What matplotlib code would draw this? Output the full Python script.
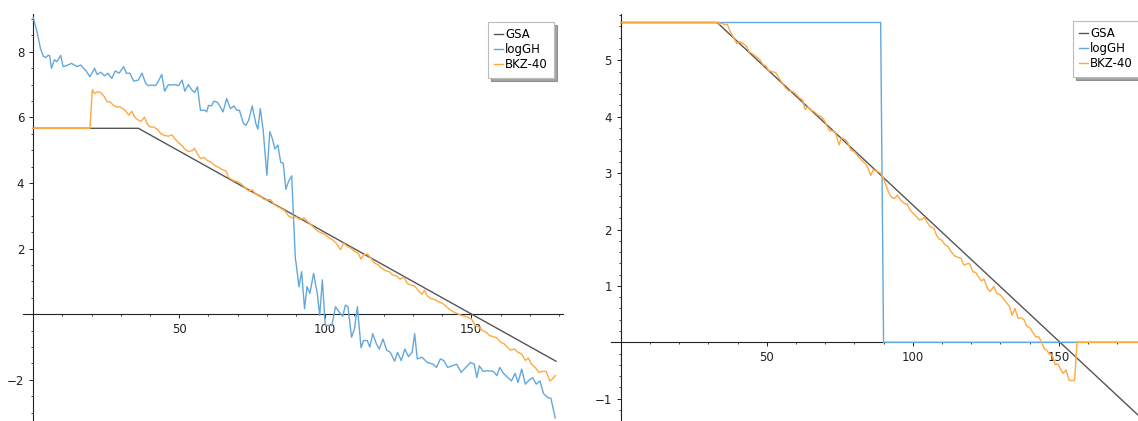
import matplotlib
matplotlib.use("Agg")
import matplotlib.pyplot as plt
import numpy as np

# ── data ──────────────────────────────────────────────────────────────────
# left panel
gsa_left_x = [0, 36, 179]
gsa_left_y = [5.67, 5.67, -1.43]

gh_left_x = [0, 1.25, 2.5, 3.5, 4.4, 5, 5.6, 6.25, 7.25, 8.1, 9.4, 10.25, 11.9, 13.1, 15, 16.25,
             18.1, 19.4, 21, 21.9, 23.1, 24.4, 25.6, 26.9, 28.1, 29.4, 31, 31.9, 33.1, 34.4, 36,
             37.25, 38.5, 39.4, 40.6, 41.9, 42.75, 44, 45, 46.25, 47.5, 48.75, 49.75, 51, 51.9,
             53.1, 54.4, 55.25, 56.25, 57.25, 58.75, 59.4, 60, 61, 61.9, 63.1, 63.75, 65, 66.25,
             67.5, 68.75, 69.75, 70.6, 71.9, 72.75, 73.75, 75, 76.25, 76.9, 77.75, 78.75, 80, 81,
             81.9, 82.75, 83.75, 84.75, 85.6, 86.5, 87.5, 88.5, 89.75, 90, 91, 91.9, 92.9, 93.75,
             94.75, 96, 97.25, 98.1, 99, 100, 101, 102.25, 103.5, 104.75, 106, 106.9, 107.75, 109,
             110, 111, 112.25, 113.1, 114.4, 115.25, 116.25, 117.5, 118.5, 119.75, 121, 122.25,
             123.75, 124.75, 126, 127.25, 128.5, 129.75, 130.6, 131.5, 133.1, 135, 136.9, 138.1,
             139.4, 140.6, 141.9, 143.5, 145, 146.5, 148.1, 149.75, 151, 151.9, 152.75, 154,
             155.6, 157.5, 158.75, 159.75, 161, 162.5, 163.75, 165, 166, 167.25, 168.5, 169.75,
             171, 172.25, 173.5, 174.75, 176.25, 177.25, 178.75]
gh_left_y = [9.05, 8.63, 8.1, 7.86, 7.83, 7.89, 7.89, 7.5, 7.76, 7.7, 7.89, 7.55, 7.6, 7.65, 7.55, 7.6,
             7.42, 7.24, 7.5, 7.31, 7.38, 7.27, 7.35, 7.19, 7.42, 7.35, 7.55, 7.35, 7.35, 7.11, 7.14,
             7.35, 7.04, 6.97, 6.99, 6.97, 7.09, 7.31, 6.8, 7.0, 6.99, 7.0, 6.97, 7.14, 6.8,
             7.0, 6.83, 6.76, 6.94, 6.22, 6.22, 6.17, 6.37, 6.35, 6.5, 6.46, 6.37, 6.17, 6.58,
             6.27, 6.35, 6.22, 6.22, 5.84, 5.76, 5.91, 6.35, 5.81, 5.64, 6.27, 5.6, 4.24, 5.57,
             5.35, 5.04, 5.16, 4.63, 4.61, 3.81, 4.07, 4.22, 1.7, 1.56, 0.84, 1.3, 0.17, 0.84,
             0.64, 1.25, 0.64, -0.03, 1.05, -0.34, -0.34, -0.34, 0.23, 0.07, -0.06, 0.28, 0.23, -0.7,
             -0.44, 0.23, -1.02, -0.8, -0.8, -1.0, -0.59, -0.9, -1.06, -0.75, -1.09, -1.16,
             -1.43, -1.16, -1.41, -1.06, -1.29, -1.16, -0.59, -1.36, -1.31, -1.47, -1.52, -1.62,
             -1.36, -1.41, -1.62, -1.57, -1.52, -1.77, -1.62, -1.47, -1.52, -1.93, -1.57, -1.74,
             -1.72, -1.74, -1.87, -1.62, -1.8, -1.93, -2.03, -1.8, -2.08, -1.67, -2.13, -2.01,
             -1.93, -2.13, -2.03, -2.42, -2.54, -2.56, -3.16]

bkz_left_x = [0, 19.4, 20.25, 21, 21.9, 23.1, 24.4, 25.25, 26.25, 27.5, 28.5, 29.75, 31, 31.9, 32.75,
              33.75, 34.75, 35.6, 36.9, 38.1, 39, 40, 41.25, 42.5, 43.75, 45, 46.25, 47.5, 48.5,
              49.75, 51, 51.9, 53.1, 54.4, 55.25, 56.25, 57.25, 58.5, 59.75, 61, 62.25, 63.5, 64.75,
              66, 66.9, 67.75, 68.75, 70, 71.25, 72.5, 73.75, 75, 76.25, 77.5, 78.75, 80, 81.25,
              82.5, 83.75, 85, 86.25, 87.5, 88.75, 90, 91.25, 92.75, 93.75, 95, 96.25, 97.5, 98.75,
              100, 101.25, 102.5, 103.75, 105.25, 106.25, 107.5, 108.75, 110, 111.25, 112.25, 113.1,
              114.4, 115.6, 116.9, 118.1, 119.4, 120.6, 121.9, 123.1, 124.4, 125.6, 126.9, 128.1,
              129.4, 130.6, 131.9, 133.1, 134, 135, 136.25, 137.5, 138.75, 140.25, 141.5, 142.75,
              144, 145.25, 146.5, 147.75, 149, 150.25, 151.25, 152.75, 153.75, 155, 156.25, 157.5,
              158.75, 160, 161.25, 162.5, 163.5, 164.75, 166, 167.25, 168.5, 169.5, 170.6, 171.9,
              173.1, 174.4, 175.6, 176.9, 177.75, 178.75]
bkz_left_y = [5.67, 5.67, 6.85, 6.73, 6.78, 6.76, 6.63, 6.48, 6.48, 6.37, 6.32, 6.32, 6.25, 6.17, 6.07,
              6.19, 6.01, 5.94, 5.88, 6.01, 5.81, 5.71, 5.71, 5.64, 5.5, 5.45, 5.43, 5.47, 5.35,
              5.23, 5.14, 5.04, 4.96, 4.99, 5.06, 4.89, 4.75, 4.78, 4.68, 4.63, 4.53, 4.48, 4.41,
              4.37, 4.17, 4.12, 4.07, 4.04, 3.97, 3.86, 3.76, 3.79, 3.66, 3.63, 3.52, 3.48, 3.5,
              3.35, 3.28, 3.22, 3.15, 2.99, 2.94, 2.97, 2.89, 2.94, 2.84, 2.74, 2.63, 2.53, 2.48,
              2.43, 2.33, 2.27, 2.17, 1.97, 2.17, 2.07, 2.02, 1.92, 1.86, 1.68, 1.81,
              1.84, 1.71, 1.56, 1.51, 1.4, 1.33, 1.3, 1.2, 1.17, 1.07, 1.13, 0.94,
              0.89, 0.86, 0.72, 0.61, 0.74, 0.55, 0.48, 0.45, 0.38, 0.33, 0.23, 0.14,
              0.07, 0.02, -0.03, -0.06, -0.1, -0.16, -0.34, -0.39, -0.49, -0.54, -0.65, -0.68,
              -0.72, -0.85, -0.9, -1.02, -1.09, -1.06, -1.16, -1.21, -1.41, -1.33, -1.52, -1.62,
              -1.77, -1.74, -1.74, -2.03, -1.98, -1.87]

# right panel
gsa_right_x = [0, 33, 179]
gsa_right_y = [5.67, 5.67, -1.38]

gh_right_x = [0, 89, 90, 179]
gh_right_y = [5.67, 5.67, 0, 0]

bkz_right_x = [0, 33.5, 33.75, 34.75, 35.6, 36.5, 37.5, 38.75, 39.75, 40.6, 41.9, 43.1, 44, 45, 46.25,
               47.5, 48.75, 49.75, 50.6, 51.9, 53.1, 54, 55, 56.25, 57.5, 58.75, 60, 61.25, 62.25,
               63.1, 64, 65, 66.25, 67.5, 68.75, 69.75, 70.6, 71.5, 72.5, 73.5, 74.75, 75.6, 76.9,
               77.75, 78.75, 80, 81.25, 82.5, 83.75, 84.75, 85.6, 86.5, 87.75, 89, 90, 91, 91.9,
               92.75, 93.75, 94.75, 96, 97.25, 98.1, 99, 100.25, 101.25, 102.25, 103.1, 104, 105,
               106, 107.25, 108.1, 109, 110, 111, 111.9, 113.1, 114.4, 115.25, 116.5, 117.5, 118.5,
               119.4, 120.6, 121.5, 122.5, 123.5, 124.4, 125.6, 126.5, 127.75, 128.75, 130, 131,
               132.25, 133.1, 134, 135, 136, 137.25, 138.1, 139, 140.25, 141.25, 142.25, 143.1, 144,
               145, 146, 146.9, 147.75, 148.75, 149.75, 150.6, 151.5, 152.5, 153.5, 154.4, 155.4,
               156.25, 179]
bkz_right_y = [5.67, 5.67, 5.64, 5.66, 5.63, 5.64, 5.51, 5.39, 5.3, 5.33, 5.3, 5.24, 5.15, 5.12, 5.07,
               5.02, 4.92, 4.9, 4.82, 4.8, 4.78, 4.7, 4.62, 4.52, 4.46, 4.45, 4.4, 4.33, 4.3,
               4.13, 4.17, 4.12, 4.09, 4.03, 4.0, 3.93, 3.84, 3.75, 3.75, 3.73, 3.5, 3.63, 3.59,
               3.54, 3.41, 3.38, 3.3, 3.23, 3.17, 3.08, 2.96, 3.06, 3.03, 3.0, 2.9, 2.76, 2.64,
               2.57, 2.55, 2.61, 2.51, 2.46, 2.45, 2.35, 2.28, 2.23, 2.17, 2.18, 2.22, 2.12,
               2.05, 2.02, 1.9, 1.83, 1.81, 1.73, 1.71, 1.61, 1.53, 1.51, 1.49, 1.37, 1.39,
               1.4, 1.25, 1.24, 1.16, 1.09, 1.12, 0.95, 0.9, 0.99, 0.87, 0.84, 0.78,
               0.69, 0.64, 0.48, 0.6, 0.43, 0.43, 0.4, 0.29, 0.25, 0.16, 0.09, 0.1, 0.01,
               -0.11, -0.15, -0.22, -0.22, -0.4, -0.38, -0.48, -0.55, -0.49, -0.67, -0.68, -0.67,
               0, 0]

labels = ["GSA", "logGH", "BKZ-40"]
colors = ["#555555", "#62a8dd", "#ffa940"]

plt.rcParams["font.size"] = 8.5
plt.rcParams["axes.unicode_minus"] = True

W, H = 1138, 421
fig = plt.figure(figsize=(W / 100, H / 100), dpi=100)


def style_axes(ax, xlim, ylim, ymajor, yminor):
    ax.set_xlim(*xlim)
    ax.set_ylim(*ylim)
    for s in ("top", "right"):
        ax.spines[s].set_visible(False)
    ax.spines["left"].set_position("zero")
    ax.spines["bottom"].set_position("zero")
    for s in ("left", "bottom"):
        ax.spines[s].set_linewidth(0.8)
        ax.spines[s].set_color("#222222")
    ax.set_xticks([50, 100, 150])
    ax.set_xticks(np.arange(10, 181, 10), minor=True)
    ax.set_yticks(ymajor)
    ax.set_yticks(yminor, minor=True)
    ax.tick_params(which="major", length=3, width=0.7, colors="#222222", labelsize=8.5)
    ax.tick_params(which="minor", length=1.7, width=0.6, colors="#222222")


def draw(ax, series, legend_xy):
    for (xs, ys), lab, c in zip(series, labels, colors):
        ax.plot(xs, ys, color=c, lw=1.0, label=lab, zorder=3)
    leg = ax.legend(loc="upper left", bbox_to_anchor=legend_xy, bbox_transform=fig.transFigure,
                    borderaxespad=0, fontsize=8.5, handlelength=0.7, handletextpad=0.2,
                    labelspacing=0.16, borderpad=0.55, fancybox=False, shadow=True,
                    framealpha=1)
    leg.get_frame().set_edgecolor("#bbbbbb")
    leg.get_frame().set_linewidth(0.8)
    leg.set_zorder(5)


# left panel
ax1 = fig.add_axes([23 / W, 0, 540 / W, (H - 14) / H])
draw(ax1, [(gsa_left_x, gsa_left_y), (gh_left_x, gh_left_y), (bkz_left_x, bkz_left_y)],
     (488 / W, 1 - 22 / H))
style_axes(ax1, (-3.5, 181.4), (-3.253, 9.155),
           [-2, 2, 4, 6, 8], [v for v in np.arange(-3, 9.01, 0.5) if v % 2 != 0])

# right panel (cut off at the right edge, as in the picture)
ax2 = fig.add_axes([610.5 / W, 0, 540 / W, (H - 14) / H])
draw(ax2, [(gsa_right_x, gsa_right_y), (gh_right_x, gh_right_y), (bkz_right_x, bkz_right_y)],
     (1073 / W, 1 - 21 / H))
style_axes(ax2, (-3.5, 181.4), (-1.395, 5.821),
           [-1, 1, 2, 3, 4, 5], np.round(np.arange(-1.2, 5.81, 0.2), 2))

fig.savefig("out.png", dpi=100)
